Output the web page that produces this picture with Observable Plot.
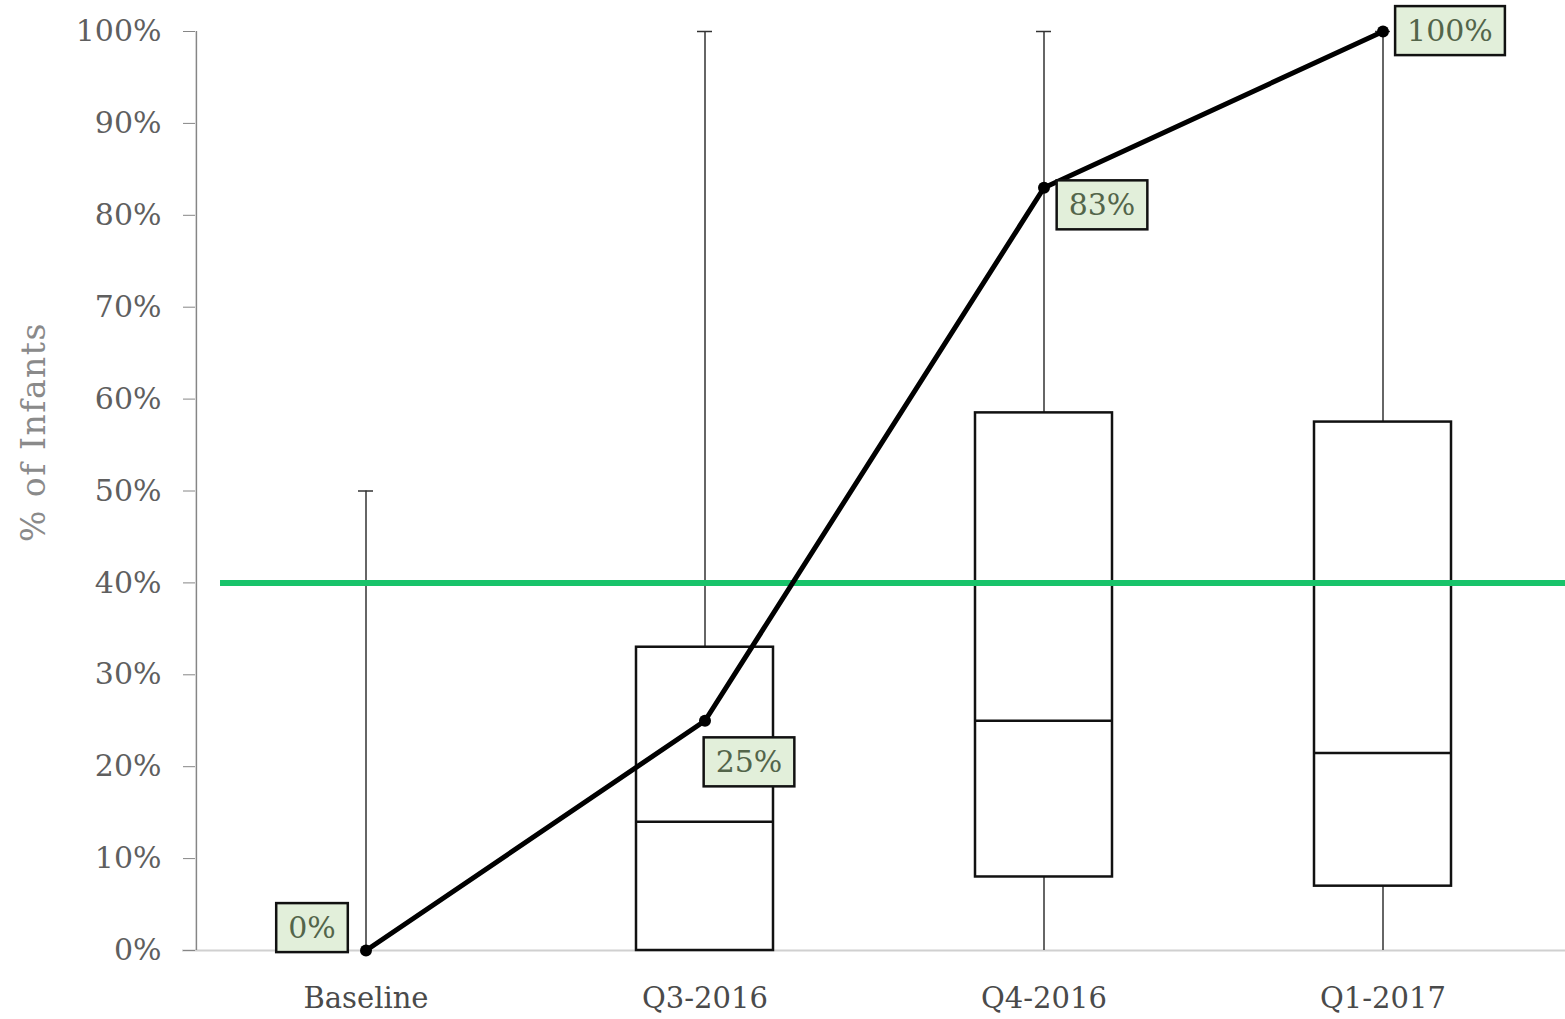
<!DOCTYPE html>
<html>
<head>
<meta charset="utf-8">
<script src="https://cdn.jsdelivr.net/npm/d3@7"></script>
<script src="https://cdn.jsdelivr.net/npm/@observablehq/plot@0.6"></script>
<style>
  html, body { margin: 0; padding: 0; background: #fff; }
  #chart svg { display: block; }
</style>
</head>
<body>
<div id="chart"></div>
<script>
// ---- data ----
const categories   = ["Baseline", "Q3-2016", "Q4-2016", "Q1-2017"];
const whiskerLow   = [0, 0, 0, 0];
const whiskerHigh  = [50, 100, 100, 100];
const boxLow       = [null, 0, 8, 7];
const boxMedian    = [null, 14, 25, 21.5];
const boxHigh      = [null, 33, 58.5, 57.5];
const trendValues  = [0, 25, 83, 100];
const targetValue  = 40;
const yTicks       = [0, 10, 20, 30, 40, 50, 60, 70, 80, 90, 100];

// ---- tables built from the arrays ----
const rows = categories.map((c, i) => ({
  cat: c, lo: whiskerLow[i], hi: whiskerHigh[i],
  q1: boxLow[i], med: boxMedian[i], q3: boxHigh[i], trend: trendValues[i]
}));
const boxes = rows.filter(d => d.q1 != null);

// label placement (pixel offsets of each value tag from its point)
const tagOffsets = [[-54, -22], [44, 42], [58, 18], [67, 0]];

const font = "DejaVu Serif, Liberation Serif, serif";

const labelMarks = rows.map((d, i) => Plot.text([d], {
  x: "cat", y: "trend", text: d => `${d.trend}%`,
  dx: tagOffsets[i][0], dy: tagOffsets[i][1],
  fill: "#53654a", fontSize: 30, className: "value-tag"
}));

const chart = Plot.plot({
  width: 1565,
  height: 1019,
  marginTop: 31,
  marginBottom: 69,
  marginLeft: 195,
  marginRight: 12,
  style: { fontFamily: font, background: "#fff", overflow: "visible" },
  x: { domain: categories, padding: 0, label: null },
  y: { domain: [0, 100], label: null },
  marks: [
    // x baseline
    Plot.ruleY([0], { stroke: "#d0d0d0", strokeWidth: 2, insetLeft: -13, insetRight: -12 }),
    // y axis line
    Plot.ruleX([0], { x: () => categories[0], frameAnchor: "left", stroke: "#868686", strokeWidth: 1.5, dx: -169.6 }),
    Plot.axisY({
      ticks: yTicks, tickFormat: d => `${d}%`, tickSize: 12, tickPadding: 22,
      fontSize: 30, color: "#5f5f5f", stroke: "#868686", label: null
    }),
    Plot.axisX({ tickSize: 0, tickPadding: 37, fontSize: 29, color: "#4a4a4a", label: null }),
    // whiskers
    Plot.ruleX(rows, { x: "cat", y1: "lo", y2: "hi", stroke: "#333", strokeWidth: 1.5 }),
    Plot.tickY(rows, { x: "cat", y: "hi", stroke: "#333", strokeWidth: 1.5, insetLeft: 162, insetRight: 162 }),
    // boxes
    Plot.barY(boxes, { x: "cat", y1: "q1", y2: "q3", fill: "#fff", stroke: "#111", strokeWidth: 2.5, insetLeft: 101, insetRight: 101 }),
    Plot.tickY(boxes, { x: "cat", y: "med", stroke: "#111", strokeWidth: 2.5, insetLeft: 101, insetRight: 101 }),
    // target line
    Plot.ruleY([targetValue], { stroke: "#18c36a", strokeWidth: 6, insetLeft: 25, insetRight: -12 }),
    // trend
    Plot.line(rows, { x: "cat", y: "trend", stroke: "#000", strokeWidth: 5 }),
    Plot.dot(rows, { x: "cat", y: "trend", fill: "#000", r: 6 }),
    ...labelMarks
  ]
});

document.getElementById("chart").appendChild(chart);

// y axis title (text outside the plot)
const svg = d3.select(chart);
svg.append("text")
  .attr("transform", "translate(36,432) rotate(-90)")
  .attr("text-anchor", "middle")
  .attr("dominant-baseline", "middle")
  .attr("font-family", font)
  .attr("font-size", 33)
  .attr("letter-spacing", 1.5)
  .attr("fill", "#8a8a8a")
  .text("% of Infants");

// boxes behind value tags
svg.selectAll("g.value-tag text").each(function () {
  const b = this.getBBox();
  const t = this.getAttribute("transform");
  const r = d3.select(this.parentNode).insert("rect", () => this)
    .attr("x", b.x - 12).attr("y", b.y - 7)
    .attr("width", b.width + 24).attr("height", b.height + 14)
    .attr("fill", "#e2efda").attr("stroke", "#111").attr("stroke-width", 2.5);
  if (t) r.attr("transform", t);
});
</script>
</body>
</html>
